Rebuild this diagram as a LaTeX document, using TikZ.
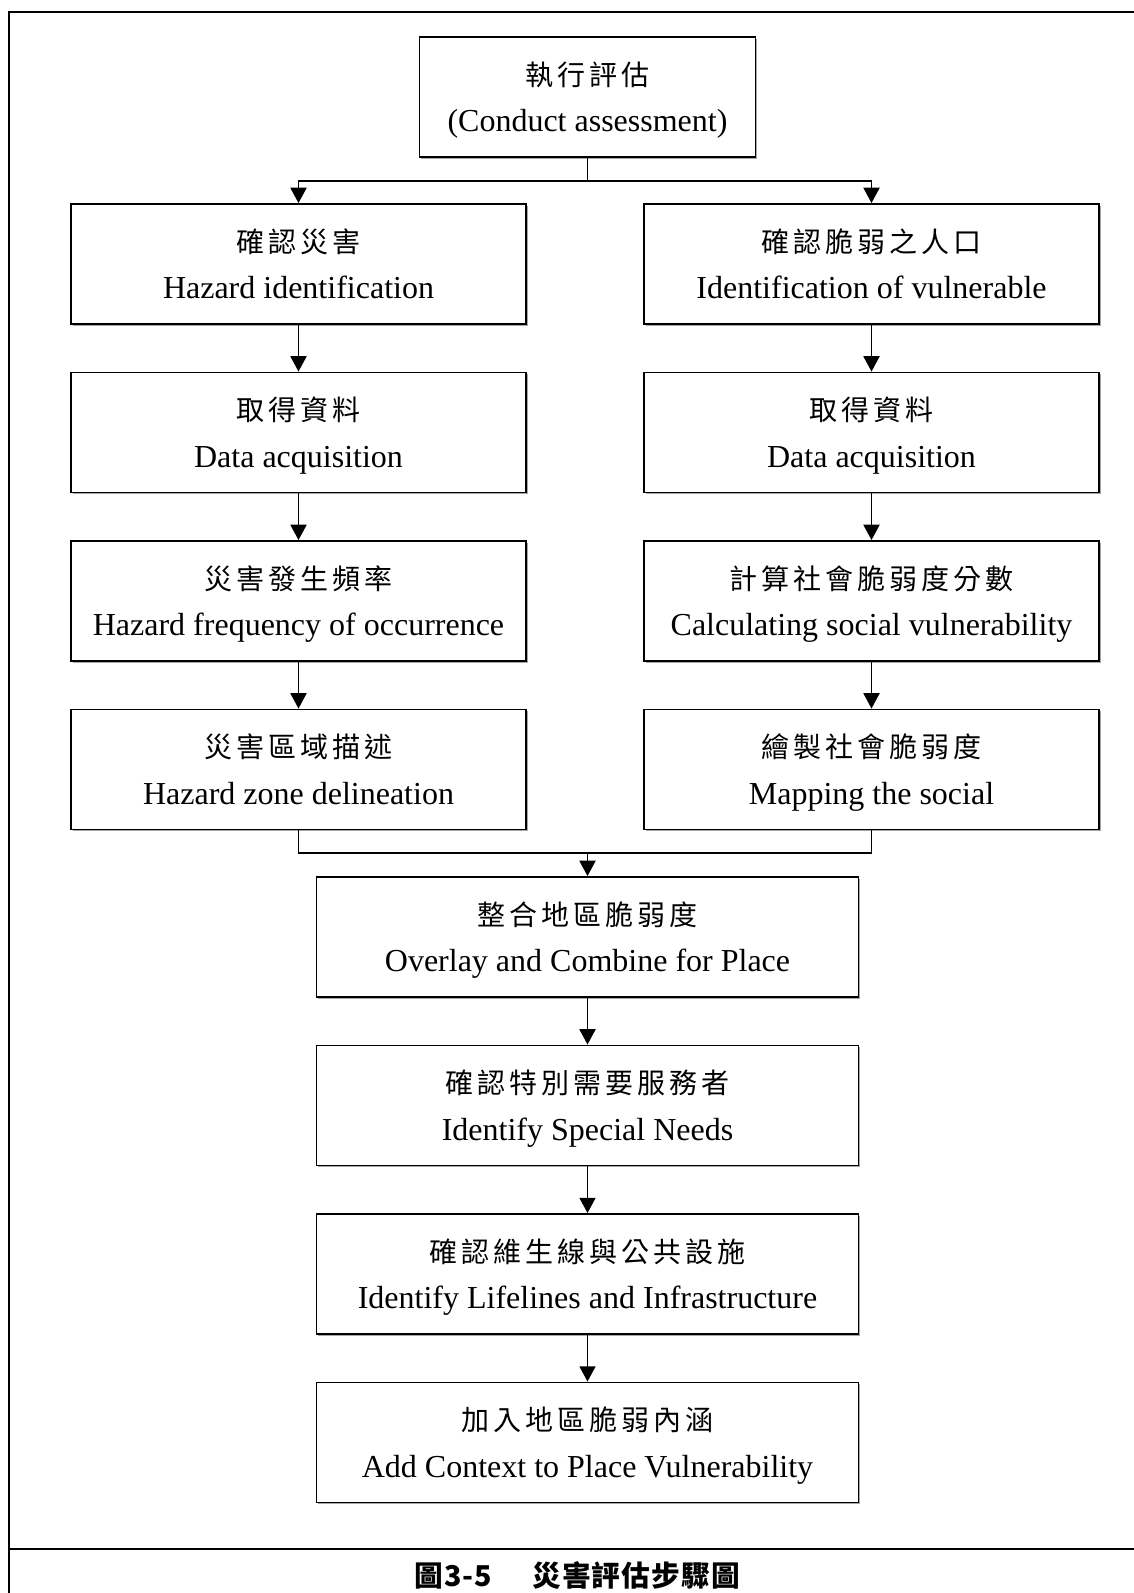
\documentclass[tikz,border=0pt]{standalone}
\usepackage{fontspec}
\setmainfont{Liberation Serif}
\newfontfamily\cjkfont[LetterSpace=14]{Noto Sans CJK TC}
\newfontfamily\capfont[LetterSpace=4]{Noto Sans CJK TC}
\usetikzlibrary{arrows.meta,shadows}

\tikzset{
  stepbox/.style={draw=black, line width=1.4pt, fill=white, minimum height=90pt, inner sep=0pt,
    drop shadow={shadow xshift=1.3pt, shadow yshift=-1.3pt, fill=black, opacity=0.35}},
  cntext/.style={anchor=base, inner sep=0pt, font=\cjkfont\fontsize{21}{24}\selectfont},
  entext/.style={anchor=base, inner sep=0pt, font=\fontsize{24}{28}\selectfont},
  link/.style={line width=1.4pt},
  flow/.style={link, -{Triangle[length=11.5pt,width=12pt]}},
  frameline/.style={line width=2.1pt},
  captext/.style={anchor=base, inner sep=0pt, font=\capfont\bfseries\fontsize{21.5}{24}\selectfont},
}

% one step of the flow: name, x, y, width, Chinese title, English title
\newcommand\flowstep[6]{%
  \node[stepbox, minimum width=#4] (#1) at (#2,#3) {};
  \node[cntext] (#1-cn) at ([yshift=9pt]#1.center) {#5};
  \node[entext] (#1-en) at ([yshift=-26pt]#1.center) {#6};
}

\begin{document}
\begin{tikzpicture}[x=0.75pt,y=-0.75pt]
\useasboundingbox (0,0) rectangle (1134,1593);

% page frame: top and left rules, caption separator
\coordinate (fbl) at (9,1593);
\coordinate (ftl) at (9,12);
\coordinate (ftr) at (1134,12);
\coordinate (sepl) at (9,1549);
\coordinate (sepr) at (1134,1549);
\draw[frameline] (fbl) -- (ftl) -- (ftr);
\draw[frameline] (sepl) -- (sepr);

% top step
\flowstep{top}{587.5}{97}{252pt}{執行評估}{(Conduct assessment)}

% hazard column
\flowstep{L1}{298.5}{264}{341.25pt}{確認災害}{Hazard identification}
\flowstep{L2}{298.5}{432.5}{341.25pt}{取得資料}{Data acquisition}
\flowstep{L3}{298.5}{601}{341.25pt}{災害發生頻率}{Hazard frequency of occurrence}
\flowstep{L4}{298.5}{769.5}{341.25pt}{災害區域描述}{Hazard zone delineation}

% social vulnerability column
\flowstep{R1}{871.5}{264}{341.25pt}{確認脆弱之人口}{Identification of vulnerable}
\flowstep{R2}{871.5}{432.5}{341.25pt}{取得資料}{Data acquisition}
\flowstep{R3}{871.5}{601}{341.25pt}{計算社會脆弱度分數}{Calculating social vulnerability}
\flowstep{R4}{871.5}{769.5}{341.25pt}{繪製社會脆弱度}{Mapping the social}

% combined steps
\flowstep{C1}{587.5}{937}{406.5pt}{整合地區脆弱度}{Overlay and Combine for Place}
\flowstep{C2}{587.5}{1105.5}{406.5pt}{確認特別需要服務者}{Identify Special Needs}
\flowstep{C3}{587.5}{1274}{406.5pt}{確認維生線與公共設施}{Identify Lifelines and Infrastructure}
\flowstep{C4}{587.5}{1442.5}{406.5pt}{加入地區脆弱內涵}{Add Context to Place Vulnerability}

% split into the two columns
\coordinate (split) at (587.5,181);
\draw[link] (top.south) -- (split);
\draw[flow] (split) -| (L1.north);
\draw[flow] (split) -| (R1.north);

% column arrows
\draw[flow] (L1.south) -- (L2.north);
\draw[flow] (L2.south) -- (L3.north);
\draw[flow] (L3.south) -- (L4.north);
\draw[flow] (R1.south) -- (R2.north);
\draw[flow] (R2.south) -- (R3.north);
\draw[flow] (R3.south) -- (R4.north);

% merge the columns
\coordinate (merge) at (587.5,853);
\draw[link] (L4.south) |- (merge) -| (R4.south);
\draw[flow] (merge) -- (C1.north);

% combined arrows
\draw[flow] (C1.south) -- (C2.north);
\draw[flow] (C2.south) -- (C3.north);
\draw[flow] (C3.south) -- (C4.north);

% caption
\node[captext] (caption) at (577,1586) {圖3-5\hspace{30pt}災害評估步驟圖};
\end{tikzpicture}
\end{document}
